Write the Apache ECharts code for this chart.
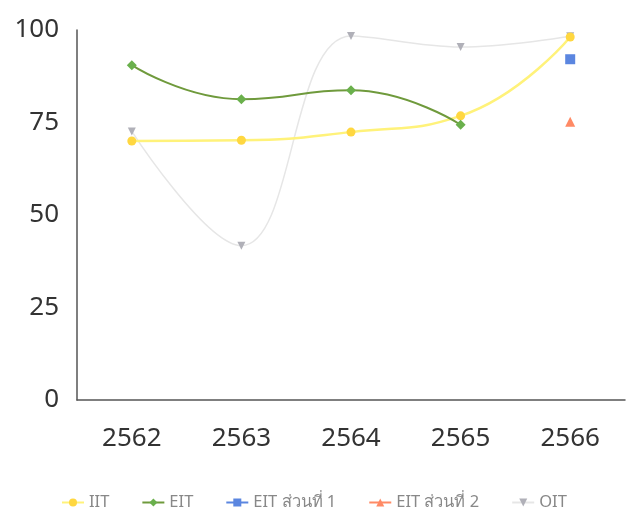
<!DOCTYPE html>
<html>
<head>
<meta charset="utf-8">
<script src="https://cdn.jsdelivr.net/npm/echarts@6/dist/echarts.min.js"></script>
<style>
html,body{margin:0;padding:0;background:#fff;}
#chart{width:638px;height:511px;}
</style>
</head>
<body>
<div id="chart"></div>
<script>
const categories = ['2562', '2563', '2564', '2565', '2566'];
const iitValues = [70.0, 70.2, 72.4, 76.8, 98.1];
const eitValues = [90.5, 81.3, 83.7, 74.4, null];
const eitPart1Values = [null, null, null, null, 92.1];
const eitPart2Values = [null, null, null, null, 75.2];
const oitValues = [72.6, 41.7, 98.4, 95.4, 98.3];
const yTicks = { min: 0, max: 100, interval: 25 };

const chart = echarts.init(document.getElementById('chart'));
const fontFam = "'Noto Sans', 'DejaVu Sans', sans-serif";
chart.setOption({
  animation: false,
  grid: { left: 77, right: 13, top: 30, bottom: 111 },
  legend: {
    top: 489,
    left: 56,
    itemGap: 32,
    itemWidth: 22,
    itemHeight: 10,
    textStyle: { color: '#888', fontSize: 16.5, fontFamily: fontFam },
    data: ['IIT', 'EIT', 'EIT ส่วนที่ 1', 'EIT ส่วนที่ 2', 'OIT']
  },
  xAxis: {
    type: 'category',
    data: categories,
    boundaryGap: true,
    axisLine: { show: true, lineStyle: { color: '#555', width: 1.5 } },
    axisTick: { show: false },
    axisLabel: { color: '#333', fontSize: 26, margin: 26, fontFamily: fontFam }
  },
  yAxis: {
    type: 'value',
    min: yTicks.min, max: yTicks.max, interval: yTicks.interval,
    axisLine: { show: true, lineStyle: { color: '#555', width: 1.5 } },
    axisTick: { show: false },
    splitLine: { show: false },
    axisLabel: { color: '#333', fontSize: 26, margin: 18, fontFamily: fontFam }
  },
  series: [
    {
      name: 'IIT', type: 'line', data: iitValues, smooth: true,
      symbol: 'circle', symbolSize: 9,
      lineStyle: { color: '#fff27a', width: 2.5 },
      itemStyle: { color: '#ffd740' },
      z: 2
    },
    {
      name: 'EIT', type: 'line', data: eitValues, smooth: true,
      symbol: 'diamond', symbolSize: 10,
      lineStyle: { color: '#6f9a3c', width: 2 },
      itemStyle: { color: '#6ab04c' },
      z: 3
    },
    {
      name: 'EIT ส่วนที่ 1', type: 'line', data: eitPart1Values,
      symbol: 'rect', symbolSize: 10,
      lineStyle: { color: '#5b86e0', width: 2 },
      itemStyle: { color: '#5b86e0' }
    },
    {
      name: 'EIT ส่วนที่ 2', type: 'line', data: eitPart2Values,
      symbol: 'triangle', symbolSize: 10,
      lineStyle: { color: '#ff8a65', width: 2 },
      itemStyle: { color: '#ff8a65' }
    },
    {
      name: 'OIT', type: 'line', data: oitValues, smooth: 0.4,
      symbol: 'triangle', symbolRotate: 180, symbolSize: 8,
      lineStyle: { color: '#e6e6e6', width: 1.5 },
      itemStyle: { color: '#b0b0b8' },
      z: 1
    }
  ]
});
</script>
</body>
</html>
